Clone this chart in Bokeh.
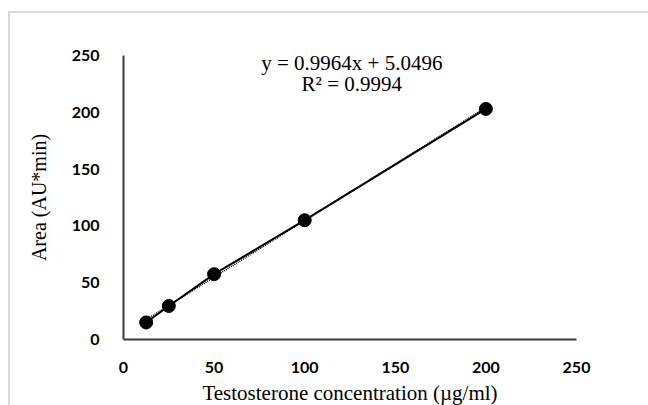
from bokeh.plotting import figure
from bokeh.models import Range1d, Label
from bokeh.embed import file_html
from bokeh.resources import INLINE

# data
conc = [12.5, 25, 50, 100, 200]
area = [15, 29.5, 57.5, 105, 203]
trend_x = [12.5, 200]
trend_y = [17.5, 204.3]
x_ticks = [0, 50, 100, 150, 200, 250]
y_ticks = [0, 50, 100, 150, 200, 250]
eq_text = "y = 0.9964x + 5.0496"
r2_text = "R\u00b2 = 0.9994"
x_title = "Testosterone concentration (\u00b5g/ml)"
y_title = "Area (AU*min)"

W, H = 640, 394
p = figure(width=W, height=H, output_backend="svg", toolbar_location=None,
           x_range=Range1d(0, 250), y_range=Range1d(0, 250),
           min_border_left=113, min_border_right=74, min_border_top=42, min_border_bottom=58)
p.margin = (11, 0, 0, 8)
p.styles = {"border-left": "2px solid #d9d9d9", "border-top": "2px solid #d9d9d9"}
p.outline_line_color = None
p.grid.visible = False
p.background_fill_color = "white"
p.border_fill_color = "white"

for ax, ticks in ((p.xaxis[0], x_ticks), (p.yaxis[0], y_ticks)):
    ax.ticker = ticks
    ax.major_tick_line_color = None
    ax.minor_tick_line_color = None
    ax.axis_line_color = "#3a3a3a"
    ax.axis_line_width = 2
    ax.major_label_text_font = "Lato"
    ax.major_label_text_font_style = "bold"
    ax.major_label_text_font_size = "16px"
    ax.major_label_text_color = "black"
    ax.axis_label_text_font = "Liberation Serif"
    ax.axis_label_text_font_style = "normal"
    ax.axis_label_text_color = "black"

p.xaxis.axis_label_text_font_size = "21px"
p.yaxis.axis_label_text_font_size = "20px"
p.xaxis.axis_label = x_title
p.yaxis.axis_label = y_title
p.xaxis.major_label_standoff = 16
p.yaxis.major_label_standoff = 18
p.xaxis.axis_label_standoff = 5
p.yaxis.axis_label_standoff = 19

p.line(trend_x, trend_y, line_color="black", line_width=1.5, line_dash="1 1")
p.line(conc, area, line_color="black", line_width=2)
p.scatter(conc, area, size=13, fill_color="black", line_color="black")

p.add_layout(Label(x=126, y=243, text=eq_text, text_align="center", text_baseline="middle",
                   text_font="Liberation Serif", text_font_size="21px", text_color="black"))
p.add_layout(Label(x=126, y=225, text=r2_text, text_align="center", text_baseline="middle",
                   text_font="Liberation Serif", text_font_size="21px", text_color="black"))

open("out.html", "w").write(file_html(p, INLINE))
